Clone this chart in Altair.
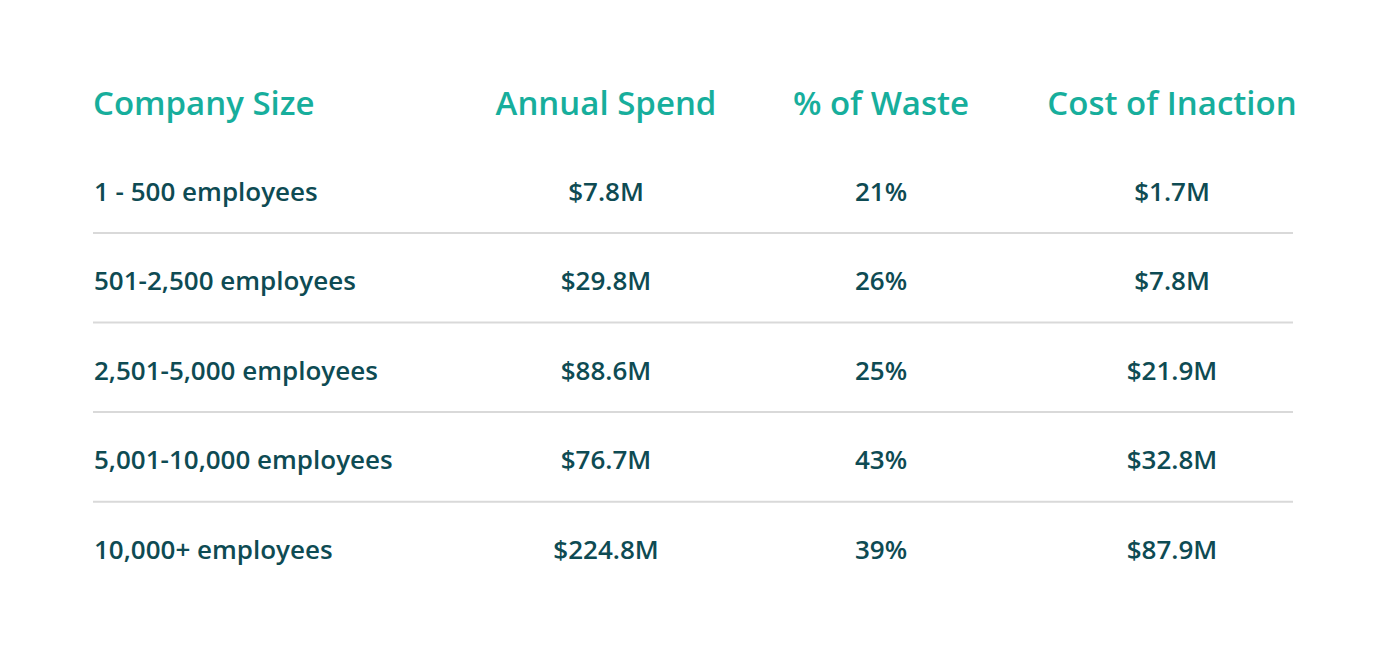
import altair as alt
import pandas as pd

headers = ["Company Size", "Annual Spend", "% of Waste", "Cost of Inaction"]
company_sizes = ["1 - 500 employees", "501-2,500 employees", "2,501-5,000 employees",
                 "5,001-10,000 employees", "10,000+ employees"]
annual_spend = ["$7.8M", "$29.8M", "$88.6M", "$76.7M", "$224.8M"]
pct_waste = ["21%", "26%", "25%", "43%", "39%"]
cost_of_inaction = ["$1.7M", "$7.8M", "$21.9M", "$32.8M", "$87.9M"]

HEADER_KEY = "__header__"
columns = [company_sizes, annual_spend, pct_waste, cost_of_inaction]

header_df = pd.DataFrame({"row": [HEADER_KEY] * 4, "col": headers, "text": headers})
body_records = []
for c, vals in zip(headers, columns):
    for r, v in zip(company_sizes, vals):
        body_records.append({"row": r, "col": c, "text": v})
body_df = pd.DataFrame(body_records)
rule_df = pd.DataFrame({"row": company_sizes[:-1]})

TEAL = "#17ae9c"
DARK = "#0e4b53"
FONT = "Open Sans"

yscale = alt.Scale(type="band", domain=[HEADER_KEY] + company_sizes,
                   range=[50.2, 587.8], paddingInner=0, paddingOuter=0)

col_x = {headers[0]: 85, headers[1]: 598, headers[2]: 873, headers[3]: 1164}
col_align = {headers[0]: "left", headers[1]: "center", headers[2]: "center", headers[3]: "center"}

layers = []
rules = alt.Chart(rule_df).mark_rule(color="#d9d9d9", strokeWidth=2).encode(
    y=alt.Y("row:N", scale=yscale, axis=None, bandPosition=0.95),
    x=alt.value(85), x2=alt.value(1285))
layers.append(rules)

for name in headers:
    h = alt.Chart(header_df).transform_filter(alt.datum.col == name).mark_text(
        align=col_align[name], baseline="middle", font=FONT, fontSize=33,
        fontWeight=600, color=TEAL, dy=2).encode(
        y=alt.Y("row:N", scale=yscale, axis=None),
        x=alt.value(col_x[name]),
        text="text:N")
    b = alt.Chart(body_df).transform_filter(alt.datum.col == name).mark_text(
        align=col_align[name], baseline="middle", font=FONT, fontSize=26,
        fontWeight=600, color=DARK).encode(
        y=alt.Y("row:N", scale=yscale, axis=None),
        x=alt.value(col_x[name] + (1 if name == headers[0] else 0)),
        text="text:N")
    layers += [h, b]

chart = alt.layer(*layers).properties(
    width=1384, height=634, padding=0, background="white",
    autosize=alt.AutoSizeParams(type="fit", contains="padding"),
).configure_view(stroke=None)

chart.save("out.html", embed_options={"renderer": "svg", "actions": False})
